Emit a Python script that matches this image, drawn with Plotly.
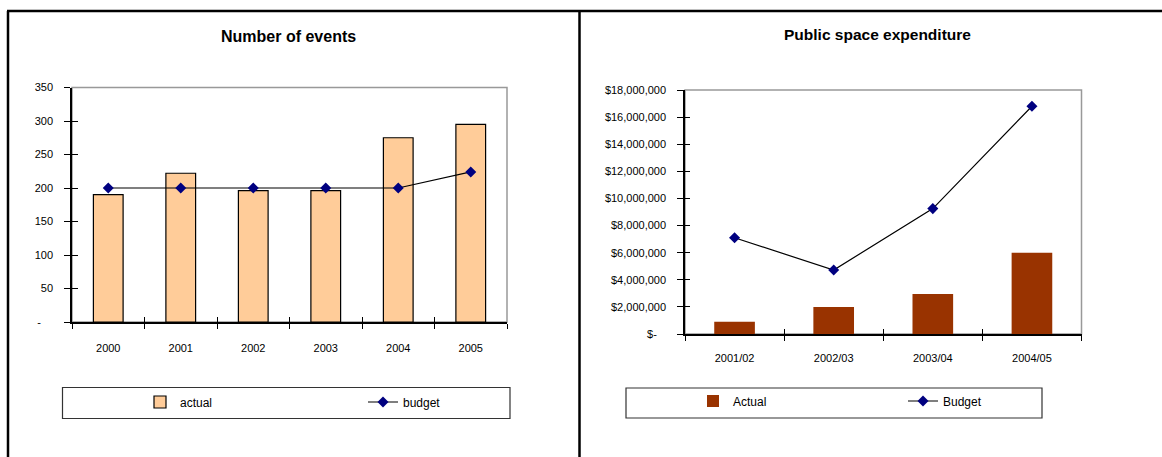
import plotly.graph_objects as go

W, H = 1162, 457

years = ["2000", "2001", "2002", "2003", "2004", "2005"]
events_actual = [190, 222, 196, 196, 275, 295]
events_budget = [200, 200, 200, 200, 200, 224]
left_ticks = [0, 50, 100, 150, 200, 250, 300, 350]
left_ticktext = ["-\u00a0\u00a0\u00a0\u00a0", "50", "100", "150", "200", "250", "300", "350"]

periods = ["2001/02", "2002/03", "2003/04", "2004/05"]
exp_actual = [900000, 2000000, 2950000, 6000000]
exp_budget = [7100000, 4720000, 9250000, 16800000]
right_ticks = [0, 2e6, 4e6, 6e6, 8e6, 10e6, 12e6, 14e6, 16e6, 18e6]
right_ticktext = ["$-\u00a0\u00a0\u00a0"] + ["${:,.0f}".format(v) for v in right_ticks[1:]]

FONT = "Liberation Sans, Arial, sans-serif"
px = lambda x: x / W
py = lambda y: 1 - y / H

fig = go.Figure()

# Left chart
fig.add_trace(go.Bar(x=years, y=events_actual, name="actual", width=0.41,
                     marker=dict(color="#FFCC99", line=dict(color="black", width=1.2)),
                     xaxis="x", yaxis="y", legend="legend"))
fig.add_trace(go.Scatter(x=years, y=events_budget, name="budget", mode="lines+markers",
                         line=dict(color="black", width=1.2),
                         marker=dict(symbol="diamond", color="#000080", size=8.5),
                         xaxis="x", yaxis="y", legend="legend"))
fig.add_trace(go.Bar(x=years, y=events_actual, opacity=0, showlegend=False, hoverinfo="skip",
                     xaxis="x3", yaxis="y3"))

# Right chart
fig.add_trace(go.Bar(x=periods, y=exp_actual, name="Actual", width=0.41,
                     marker=dict(color="#993300", line=dict(width=0)),
                     xaxis="x2", yaxis="y2", legend="legend2"))
fig.add_trace(go.Scatter(x=periods, y=exp_budget, name="Budget", mode="lines+markers",
                         line=dict(color="black", width=1.2),
                         marker=dict(symbol="diamond", color="#000080", size=8.5),
                         xaxis="x2", yaxis="y2", legend="legend2"))
fig.add_trace(go.Bar(x=periods, y=exp_actual, opacity=0, showlegend=False, hoverinfo="skip",
                     xaxis="x4", yaxis="y4"))

tickfont = dict(family=FONT, size=11, color="black")

common_x = dict(type="category", showline=True, linecolor="black", linewidth=1.5,
                ticks="outside", ticklen=5, tickcolor="black", tickwidth=1,
                tickson="boundaries", showgrid=False, zeroline=False,
                tickfont=tickfont, fixedrange=True)
common_y = dict(showline=True, linecolor="black", linewidth=1.5,
                ticks="outside", ticklen=6, tickcolor="black", tickwidth=1,
                showgrid=False, zeroline=False, tickfont=tickfont, fixedrange=True)

LX = [px(72), px(507)]
LY = [py(322), py(87.5)]
RX = [px(685), px(1081.5)]
RY = [py(334), py(90)]

fig.update_layout(
    width=W, height=H,
    margin=dict(l=0, r=0, t=0, b=0, autoexpand=False),
    paper_bgcolor="white", plot_bgcolor="white",
    showlegend=True,
    xaxis=dict(common_x, domain=LX, anchor="y", ticklabelstandoff=15),
    yaxis=dict(common_y, domain=LY, anchor="x", range=[0, 350],
               tickmode="array", tickvals=left_ticks, ticktext=left_ticktext,
               ticklabelstandoff=9),
    xaxis3=dict(type="category", overlaying="x", matches="x", anchor="y3",
                ticks="inside", ticklen=5, tickson="boundaries", tickcolor="black",
                showticklabels=False, showline=False, showgrid=False, zeroline=False),
    yaxis3=dict(overlaying="y", matches="y", anchor="x3", ticks="inside", ticklen=6,
                tickcolor="black", tickmode="array", tickvals=left_ticks,
                showticklabels=False, showline=False, showgrid=False, zeroline=False),
    xaxis2=dict(common_x, domain=RX, anchor="y2", ticklabelstandoff=13),
    yaxis2=dict(common_y, domain=RY, anchor="x2", range=[0, 18e6],
                tickmode="array", tickvals=right_ticks, ticktext=right_ticktext,
                ticklabelstandoff=9),
    xaxis4=dict(type="category", overlaying="x2", matches="x2", anchor="y4",
                ticks="inside", ticklen=5, tickson="boundaries", tickcolor="black",
                showticklabels=False, showline=False, showgrid=False, zeroline=False),
    yaxis4=dict(overlaying="y2", matches="y2", anchor="x4", ticks="inside", ticklen=5,
                tickcolor="black", tickmode="array", tickvals=right_ticks,
                showticklabels=False, showline=False, showgrid=False, zeroline=False),
    legend=dict(orientation="h", x=px(140), xanchor="left", y=py(402), yanchor="middle",
                font=dict(family=FONT, size=12, color="black"),
                entrywidth=178, entrywidthmode="pixels",
                bgcolor="rgba(0,0,0,0)", borderwidth=0, traceorder="normal"),
    legend2=dict(orientation="h", x=px(693), xanchor="left", y=py(401), yanchor="middle",
                 font=dict(family=FONT, size=12, color="black"),
                 entrywidth=165, entrywidthmode="pixels",
                 bgcolor="rgba(0,0,0,0)", borderwidth=0, traceorder="normal"),
    annotations=[
        dict(text="<b>Number of events</b>", x=px(288), y=py(36), xref="paper", yref="paper",
             showarrow=False, font=dict(family=FONT, size=16, color="black"),
             xanchor="center", yanchor="middle"),
        dict(text="<b>Public space expenditure</b>", x=px(877), y=py(35), xref="paper", yref="paper",
             showarrow=False, font=dict(family=FONT, size=15.5, color="black"),
             xanchor="center", yanchor="middle"),
    ],
    shapes=[
        dict(type="line", xref="paper", yref="paper", x0=px(7), x1=1, y0=py(11), y1=py(11),
             line=dict(color="black", width=2.5)),
        dict(type="line", xref="paper", yref="paper", x0=px(8), x1=px(8), y0=py(11), y1=0,
             line=dict(color="black", width=2.5)),
        dict(type="line", xref="paper", yref="paper", x0=px(579.5), x1=px(579.5), y0=py(11), y1=0,
             line=dict(color="black", width=2.5)),
        dict(type="rect", xref="x domain", yref="y domain", x0=0, x1=1, y0=0, y1=1,
             line=dict(color="#999999", width=1.5), layer="below"),
        dict(type="rect", xref="x2 domain", yref="y2 domain", x0=0, x1=1, y0=0, y1=1,
             line=dict(color="#999999", width=1.5), layer="below"),
        dict(type="rect", xref="paper", yref="paper", x0=px(62.5), x1=px(510), y0=py(418.5), y1=py(387.5),
             line=dict(color="#333333", width=1.2)),
        dict(type="rect", xref="paper", yref="paper", x0=px(626), x1=px(1042), y0=py(418), y1=py(388),
             line=dict(color="#333333", width=1.2)),
    ],
)

fig.write_html("out.html",
               post_script="document.body.style.margin='0';document.body.style.overflow='hidden';")
